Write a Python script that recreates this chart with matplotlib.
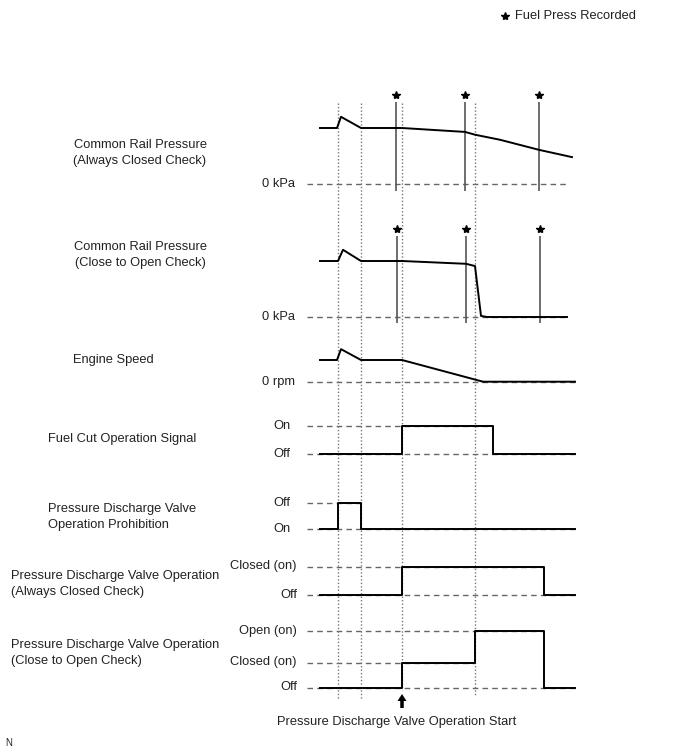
import numpy as np
import matplotlib.pyplot as plt

plt.rcParams['font.family'] = ['Liberation Sans', 'DejaVu Sans']

# time points (horizontal position along the chart)
t_start, t_end = 320, 575
event_times = [338, 361, 402, 475]          # dotted event markers
record_times_1 = [396, 465, 539]            # fuel press recorded (always closed check)
record_times_2 = [397, 466, 540]            # fuel press recorded (close to open check)

# Common Rail Pressure (Always Closed Check), relative to normal pressure
crp1_t = [320, 337, 341, 361, 402, 465, 475, 500, 539, 572]
crp1_v = [1.0, 1.0, 1.2, 1.0, 1.0, 0.93, 0.88, 0.79, 0.61, 0.48]

# Common Rail Pressure (Close to Open Check)
crp2_t = [320, 338, 343, 361, 402, 466, 475, 481, 487, 567]
crp2_v = [1.0, 1.0, 1.2, 1.0, 1.0, 0.95, 0.91, 0.02, 0.0, 0.0]

# Engine Speed, relative to idle
eng_t = [320, 337, 341, 361, 402, 483, 575]
eng_v = [1.0, 1.0, 1.5, 1.0, 1.0, 0.0, 0.0]

# step signals: change times and level index held after each time
fuelcut_t = [320, 402, 493, 575]
fuelcut_v = [0, 1, 0, 0]
prohib_t = [320, 338, 361, 575]
prohib_v = [0, 1, 0, 0]
pdv_closed_t = [320, 402, 544, 575]
pdv_closed_v = [0, 1, 0, 0]
pdv_open_t = [320, 402, 475, 544, 575]
pdv_open_v = [0, 1, 2, 0, 0]

fig = plt.figure(figsize=(6.88, 7.55), dpi=100)
ax = fig.add_axes([0, 0, 1, 1])
ax.set_xlim(0, 688)
ax.set_ylim(755, 0)
ax.axis('off')

txt = '#222222'
dash_c = '#666666'
fs = 9.3
star_ms = 6
lsp = 1.45


def analog(t, v, y0, unit, zero_end, zero_label, title, title_x, title_y):
    y = y0 - np.array(v) * unit
    ax.plot([307, zero_end], [y0, y0], color=dash_c, lw=1, ls=(0, (4, 3)), zorder=1)
    ax.plot(t, y, color='black', lw=1.4, zorder=3)
    ax.text(295, y0, zero_label, ha='right', va='center', fontsize=fs, color=txt)
    ax.text(title_x, title_y, title, ha='center', va='center', fontsize=fs, color=txt,
            linespacing=lsp)


def step(t, v, level_y, labels, title, title_x, title_y, ha='left', label_x=290):
    y = [level_y[k] for k in v]
    for k, ly in enumerate(level_y):
        ends = [t[i + 1] for i in range(len(t) - 1) if v[i] == k]
        end = max(ends) if k > 0 else t_end
        ax.plot([307, end], [ly, ly], color=dash_c, lw=1, ls=(0, (4, 3)), zorder=1)
        ax.text(label_x, ly, labels[k], ha='right', va='center', fontsize=fs, color=txt)
    ax.step(t, y, where='post', color='black', lw=1.4, zorder=3)
    ax.text(title_x, title_y, title, ha=ha, va='center', fontsize=fs, color=txt,
            linespacing=lsp)


# event markers
dot = (0, (1, 1.5))
ax.vlines(event_times[:2], 103, 699, colors='#777777', lw=1, linestyles=dot, zorder=2)
ax.vlines(event_times[2], 103, 690, colors='#777777', lw=1, linestyles=dot, zorder=2)
ax.vlines(event_times[3], 103, 696, colors='#777777', lw=1, linestyles=dot, zorder=2)

# recorded-pressure markers
ax.vlines(record_times_1, 102, 191, colors='#555555', lw=1.2, zorder=2)
ax.plot(record_times_1, [95] * 3, ls='none', marker='*', ms=star_ms, color='black')
ax.vlines(record_times_2, 236, 323, colors='#555555', lw=1.2, zorder=2)
ax.plot(record_times_2, [229] * 3, ls='none', marker='*', ms=star_ms, color='black')

analog(crp1_t, crp1_v, 184, 56, 567, '0 kPa',
       'Common Rail Pressure\n(Always Closed Check)', 140, 153)
analog(crp2_t, crp2_v, 317, 56, 567, '0 kPa',
       'Common Rail Pressure\n(Close to Open Check)', 140, 255)
analog(eng_t, eng_v, 381.7, 21.7, 575, '0 rpm', 'Engine Speed', 113, 360)

step(fuelcut_t, fuelcut_v, [454, 426], ['Off', 'On'],
     'Fuel Cut Operation Signal', 48, 439)
step(prohib_t, prohib_v, [529, 502.5], ['On', 'Off'],
     'Pressure Discharge Valve\nOperation Prohibition', 48, 517)
step(pdv_closed_t, pdv_closed_v, [595, 566.5], ['Off', 'Closed (on)'],
     'Pressure Discharge Valve Operation\n(Always Closed Check)', 11, 584, label_x=297)
step(pdv_open_t, pdv_open_v, [687.5, 662.5, 631], ['Off', 'Closed (on)', 'Open (on)'],
     'Pressure Discharge Valve Operation\n(Close to Open Check)', 11, 653, label_x=297)

# operation start arrow
ax.arrow(event_times[2], 708, 0, -14, width=3.5, head_width=9, head_length=7,
         length_includes_head=True, color='black', lw=0)
ax.text(397, 722, 'Pressure Discharge Valve Operation Start', ha='center', va='center',
        fontsize=fs, color=txt)

# legend
ax.plot([505], [16], ls='none', marker='*', ms=star_ms, color='black')
ax.text(515, 16, 'Fuel Press Recorded', ha='left', va='center', fontsize=fs, color=txt)
ax.text(5, 743, 'N', ha='left', va='center', fontsize=7, color=txt)

fig.savefig('out.png', dpi=100)
